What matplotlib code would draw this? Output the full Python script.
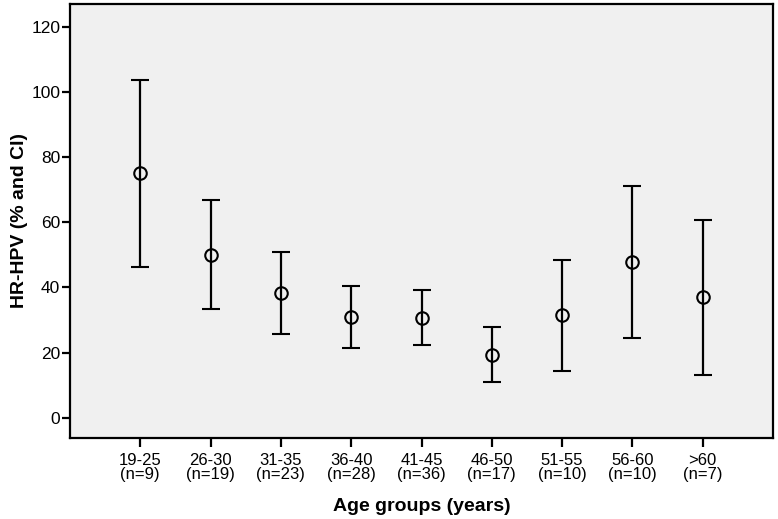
import matplotlib
matplotlib.use("Agg")
import matplotlib.pyplot as plt
import numpy as np

groups = ["19-25", "26-30", "31-35", "36-40", "41-45", "46-50", "51-55", "56-60", ">60"]
n_vals = [9, 19, 23, 28, 36, 17, 10, 10, 7]
pct = [75.1, 50.1, 38.4, 30.9, 30.6, 19.4, 31.4, 47.8, 37.0]
ci_low = [46.3, 33.3, 25.8, 21.3, 22.2, 11.0, 14.3, 24.4, 13.2]
ci_high = [103.7, 66.7, 51.0, 40.5, 39.1, 27.8, 48.4, 71.0, 60.7]

plt.rcParams['font.family'] = ['Liberation Sans', 'DejaVu Sans']

fig = plt.figure(figsize=(7.78, 5.19), dpi=100)
ax = fig.add_axes([70/778, 1 - 438/519, 703/778, 434/519])
ax.set_facecolor('#f0f0f0')

x = np.arange(len(groups))
pct_a = np.array(pct)
yerr = [pct_a - np.array(ci_low), np.array(ci_high) - pct_a]
ax.errorbar(x, pct, yerr=yerr, fmt='o', mfc='none', mec='black', mew=1.5, ms=9,
            ecolor='black', elinewidth=1.6, capsize=6.5, capthick=1.8, color='black')

ax.set_xlim(-1, len(groups))
ax.set_ylim(-6.2, 127)
ax.set_yticks([0, 20, 40, 60, 80, 100, 120])
ax.set_xticks(x)
ax.set_xticklabels([f"{g}\n(n={n})" for g, n in zip(groups, n_vals)], linespacing=0.95)

for s in ax.spines.values():
    s.set_linewidth(1.6)
    s.set_color('black')

ax.tick_params(axis='x', length=6.5, width=1.6, pad=4, labelsize=12)
ax.tick_params(axis='y', length=6, width=1.6, pad=1, labelsize=12.5)

ax.set_xlabel("Age groups (years)", fontsize=14, fontweight='bold', labelpad=11.5)
ax.set_ylabel("HR-HPV (% and CI)", fontsize=14, fontweight='bold', labelpad=2)

fig.savefig("out.png", dpi=100, facecolor='white')
